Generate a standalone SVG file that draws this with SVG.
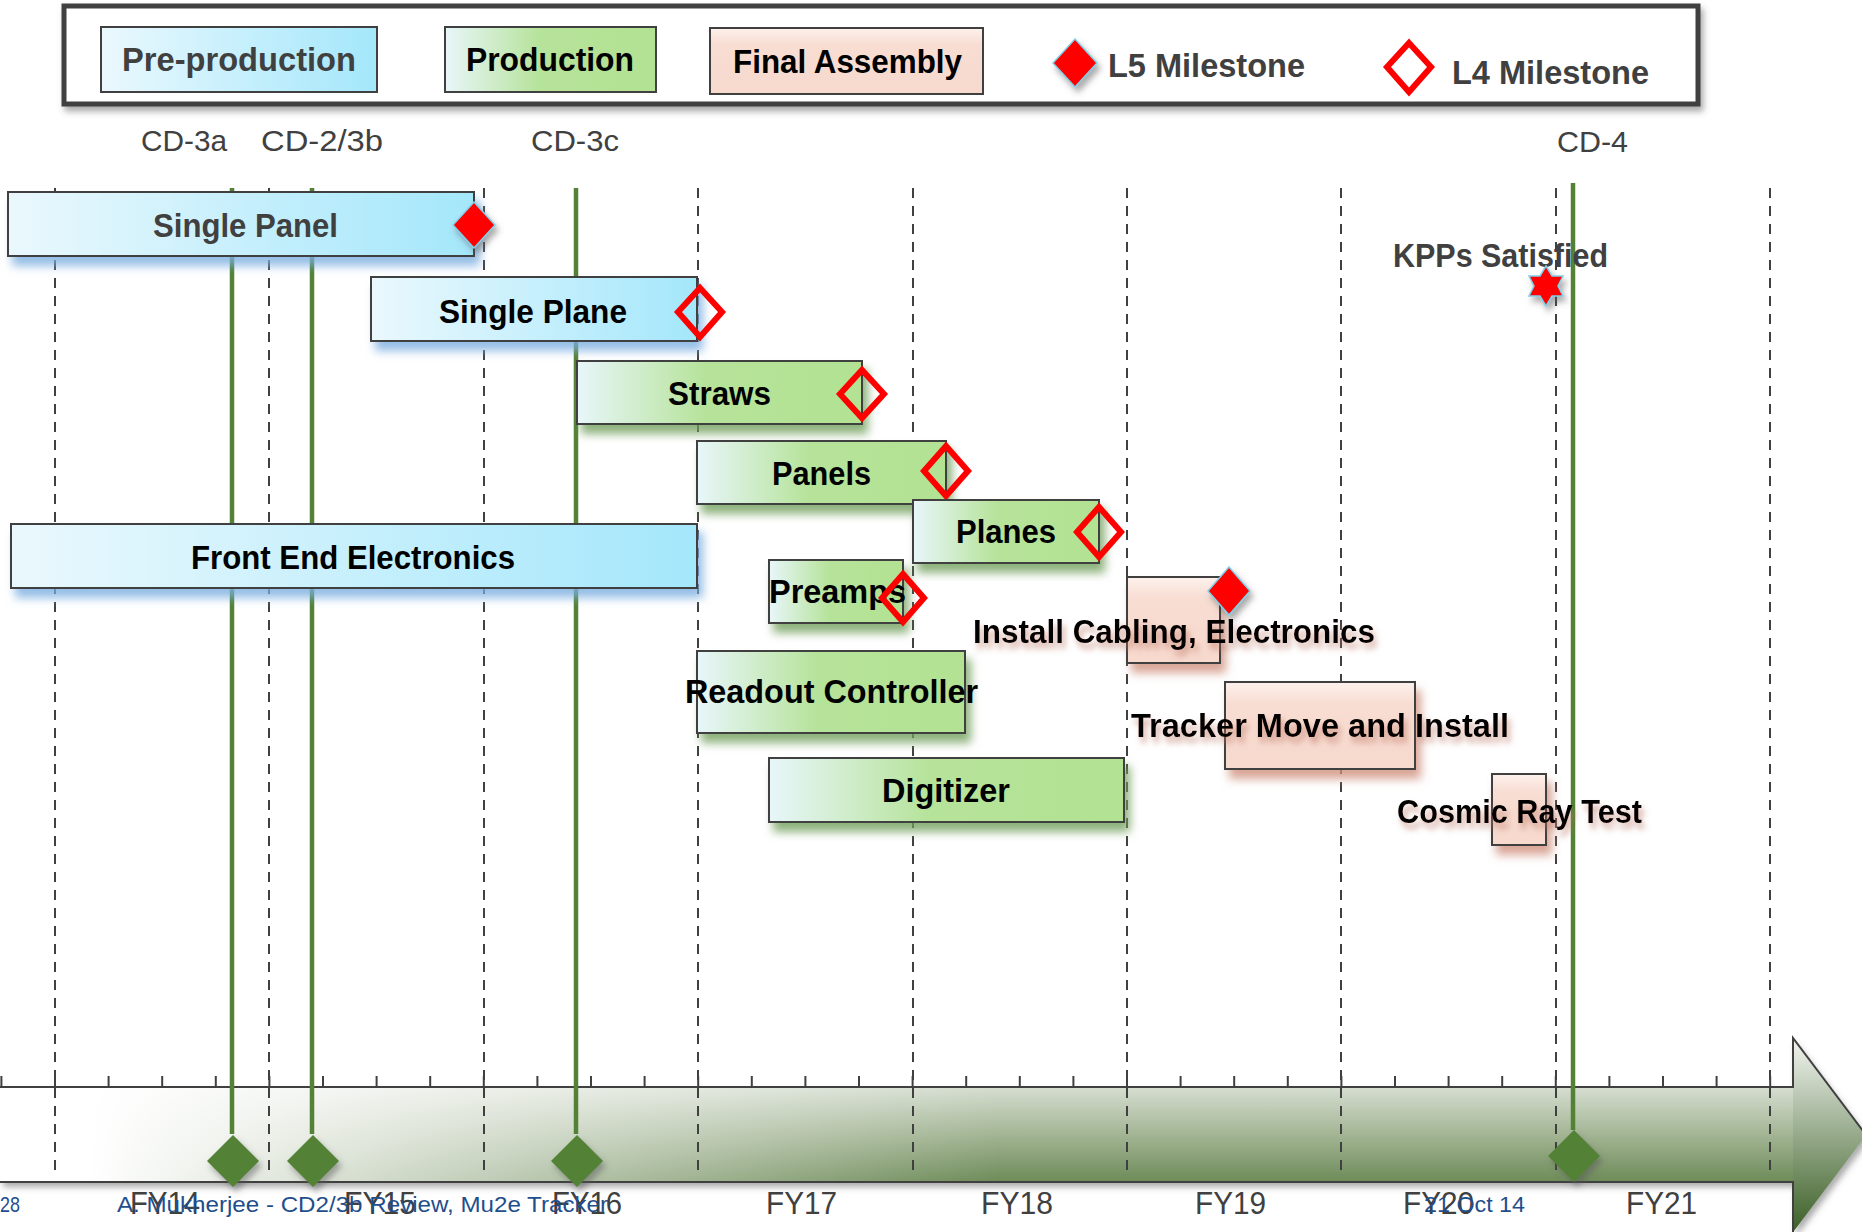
<svg xmlns="http://www.w3.org/2000/svg" width="1862" height="1232" viewBox="0 0 1862 1232">
<defs>
<linearGradient id="gCyan" x1="0" y1="0" x2="1" y2="0"><stop offset="0" stop-color="#eaf8fd"/><stop offset="1" stop-color="#a4e7fb"/></linearGradient>
<linearGradient id="gGreen" x1="0" y1="0" x2="1" y2="0"><stop offset="0" stop-color="#e8f6fa"/><stop offset="0.45" stop-color="#b6e39a"/><stop offset="1" stop-color="#b2e292"/></linearGradient>
<linearGradient id="gPink" x1="0" y1="0" x2="0" y2="1"><stop offset="0" stop-color="#fdf1ec"/><stop offset="0.25" stop-color="#f8ddd3"/><stop offset="1" stop-color="#f7d9cd"/></linearGradient>
<linearGradient id="gArrowV" gradientUnits="userSpaceOnUse" x1="0" y1="1087" x2="0" y2="1182"><stop offset="0" stop-color="#d6ded1"/><stop offset="0.5" stop-color="#a3b594"/><stop offset="1" stop-color="#6d8b58"/></linearGradient>
<linearGradient id="gFade" gradientUnits="userSpaceOnUse" x1="90" y1="0" x2="1000" y2="0"><stop offset="0" stop-color="#fff" stop-opacity="1"/><stop offset="1" stop-color="#fff" stop-opacity="0"/></linearGradient>
<linearGradient id="gHead" gradientUnits="userSpaceOnUse" x1="0" y1="1038" x2="0" y2="1232"><stop offset="0" stop-color="#f2f5f0"/><stop offset="1" stop-color="#3b5f26"/></linearGradient>
<filter id="shBlue" x="-10%" y="-30%" width="130%" height="180%"><feDropShadow dx="5" dy="9" stdDeviation="5" flood-color="#7aaee0" flood-opacity="0.8"/></filter>
<filter id="shGreen" x="-10%" y="-30%" width="130%" height="180%"><feDropShadow dx="5" dy="9" stdDeviation="5" flood-color="#6f9e5a" flood-opacity="0.8"/></filter>
<filter id="shPink" x="-20%" y="-30%" width="150%" height="180%"><feDropShadow dx="5" dy="9" stdDeviation="5" flood-color="#cf8f7c" flood-opacity="0.8"/></filter>
<filter id="shText" x="-10%" y="-30%" width="130%" height="180%"><feDropShadow dx="3" dy="6" stdDeviation="3" flood-color="#b8705f" flood-opacity="0.6"/></filter>
<filter id="shGray" x="-10%" y="-30%" width="130%" height="180%"><feDropShadow dx="3" dy="5" stdDeviation="3" flood-color="#555" flood-opacity="0.5"/></filter>
<style>
.bar{stroke:#404040;stroke-width:2}
.cy{fill:url(#gCyan)}
.gr{fill:url(#gGreen)}
.pk{fill:url(#gPink)}
.lbl{font-family:"Liberation Sans",Arial,sans-serif;font-weight:bold;font-size:34px;fill:#000}
.dk{fill:#404040}
.reg{font-family:"Liberation Sans",Arial,sans-serif;font-size:30px;fill:#404040}
.fy{font-size:32px}
.foot{font-family:"Liberation Sans",Arial,sans-serif;font-size:22px;fill:#1f4e8c}
.l5{fill:#ff0000;stroke:#7fd0e8;stroke-width:1.5}
.l4{fill:none;stroke:#ff0000;stroke-width:6;stroke-linejoin:miter}
.dash{stroke:#404040;stroke-width:2;stroke-dasharray:10 8;fill:none}
.ms{stroke:#538135;stroke-width:4.5;fill:none}
.gd{fill:#538135}
</style>
</defs>
<rect width="1862" height="1232" fill="#fff"/>

<g id="timeline-arrow">
<path d="M0,1087 H1793 V1038 L1866,1135 L1793,1232 V1182 H0 Z" fill="url(#gArrowV)" filter="url(#shGray)"/>
<rect x="0" y="1087" width="1793" height="95" fill="url(#gFade)"/>
<path d="M1793,1038 L1866,1135 L1793,1232 Z" fill="url(#gHead)"/>
<path d="M0,1087 H1793 V1038 L1866,1135 M1793,1232 V1182 H0" fill="none" stroke="#404040" stroke-width="2"/>
<path d="M1.4,1076V1087M55,1076V1087M108.6,1076V1087M162.2,1076V1087M215.8,1076V1087M269.4,1076V1087M323,1076V1087M376.6,1076V1087M430.2,1076V1087M483.8,1076V1087M537.4,1076V1087M591,1076V1087M644.6,1076V1087M698.2,1076V1087M751.8,1076V1087M805.4,1076V1087M859,1076V1087M912.6,1076V1087M966.2,1076V1087M1019.8,1076V1087M1073.4,1076V1087M1127,1076V1087M1180.6,1076V1087M1234.2,1076V1087M1287.8,1076V1087M1341.4,1076V1087M1395,1076V1087M1448.6,1076V1087M1502.2,1076V1087M1555.8,1076V1087M1609.4,1076V1087M1663,1076V1087M1716.6,1076V1087M1770.2,1076V1087" stroke="#404040" stroke-width="2"/>
</g>

<g id="grid">
<path class="dash" d="M55,188V1170M269,188V1170M484,188V1170M698,188V1170M913,188V1170M1127,188V1170M1341,188V1170M1556,188V1170M1770,188V1170"/>
</g>

<g id="connectors">
<path class="ms" d="M232,188V1134M312,188V1134M576,188V1134M1573,183V1130"/>
</g>

<g id="milestones-bottom" filter="url(#shGray)">
<path class="gd" d="M233,1135 L259,1161 L233,1187 L207,1161 Z"/>
<path class="gd" d="M313,1135 L339,1161 L313,1187 L287,1161 Z"/>
<path class="gd" d="M577,1135 L603,1161 L577,1187 L551,1161 Z"/>
<path class="gd" d="M1574,1130 L1600,1156 L1574,1182 L1548,1156 Z"/>
</g>

<g id="fy-labels">
<text class="reg fy" x="130" y="1214" textLength="70" lengthAdjust="spacingAndGlyphs">FY14</text>
<text class="reg fy" x="344" y="1214" textLength="72" lengthAdjust="spacingAndGlyphs">FY15</text>
<text class="reg fy" x="552" y="1214" textLength="70" lengthAdjust="spacingAndGlyphs">FY16</text>
<text class="reg fy" x="766" y="1214" textLength="71" lengthAdjust="spacingAndGlyphs">FY17</text>
<text class="reg fy" x="981" y="1214" textLength="72" lengthAdjust="spacingAndGlyphs">FY18</text>
<text class="reg fy" x="1195" y="1214" textLength="71" lengthAdjust="spacingAndGlyphs">FY19</text>
<text class="reg fy" x="1403" y="1214" textLength="71" lengthAdjust="spacingAndGlyphs">FY20</text>
<text class="reg fy" x="1626" y="1214" textLength="71" lengthAdjust="spacingAndGlyphs">FY21</text>
</g>

<g id="footer">
<text class="foot" x="0" y="1212" textLength="20" lengthAdjust="spacingAndGlyphs">28</text>
<text class="foot" x="117" y="1212" textLength="491" lengthAdjust="spacingAndGlyphs">A. Mukherjee - CD2/3b Review, Mu2e Tracker</text>
<text class="foot" x="1424" y="1212" textLength="101" lengthAdjust="spacingAndGlyphs">21 Oct 14</text>
</g>

<g id="legend">
<rect x="64" y="6" width="1634" height="98" fill="#fff" stroke="#404040" stroke-width="5" filter="url(#shGray)"/>
<rect class="bar cy" x="101" y="27" width="276" height="65" stroke-width="1.5"/>
<text class="lbl dk" x="122" y="71" font-size="32" textLength="234" lengthAdjust="spacingAndGlyphs">Pre-production</text>
<rect class="bar gr" x="445" y="27" width="211" height="65" stroke-width="1.5"/>
<text class="lbl" x="466" y="71" font-size="32" textLength="168" lengthAdjust="spacingAndGlyphs">Production</text>
<rect class="bar pk" x="710" y="28" width="273" height="66" stroke-width="1.5"/>
<text class="lbl" x="733" y="73" font-size="32" textLength="229" lengthAdjust="spacingAndGlyphs">Final Assembly</text>
<path class="l5" d="M1075,39 L1097,63 L1075,87 L1053,63 Z" filter="url(#shGray)"/>
<text class="lbl dk" x="1108" y="77" font-size="32" textLength="197" lengthAdjust="spacingAndGlyphs">L5 Milestone</text>
<path class="l4" d="M1409,43 L1431,67 L1409,92 L1387,67 Z"/>
<text class="lbl dk" x="1452" y="84" font-size="32" textLength="197" lengthAdjust="spacingAndGlyphs">L4 Milestone</text>
</g>

<g id="cd-labels">
<text class="reg" x="141" y="151" textLength="86" lengthAdjust="spacingAndGlyphs">CD-3a</text>
<text class="reg" x="261" y="151" textLength="122" lengthAdjust="spacingAndGlyphs">CD-2/3b</text>
<text class="reg" x="531" y="151" textLength="88" lengthAdjust="spacingAndGlyphs">CD-3c</text>
<text class="reg" x="1557" y="152" textLength="71" lengthAdjust="spacingAndGlyphs">CD-4</text>
</g>

<g id="single-panel">
<rect class="bar cy" x="8" y="192" width="466" height="64" filter="url(#shBlue)"/>
<text class="lbl dk" x="153" y="237" textLength="185" lengthAdjust="spacingAndGlyphs">Single Panel</text>
<path class="l5" d="M474,202 L495,225 L474,248 L453,225 Z" filter="url(#shGray)"/>
</g>

<g id="single-plane">
<rect class="bar cy" x="371" y="277" width="326" height="64" filter="url(#shBlue)"/>
<text class="lbl" x="439" y="323" textLength="188" lengthAdjust="spacingAndGlyphs">Single Plane</text>
<path class="l4" d="M700,288 L722,312 L700,337 L678,312 Z"/>
</g>

<g id="straws">
<rect class="bar gr" x="577" y="361" width="285" height="63" filter="url(#shGreen)"/>
<text class="lbl" x="668" y="405" textLength="103" lengthAdjust="spacingAndGlyphs">Straws</text>
<path class="l4" d="M862,370 L884,394 L862,418 L840,394 Z"/>
</g>

<g id="panels">
<rect class="bar gr" x="697" y="441" width="249" height="63" filter="url(#shGreen)"/>
<text class="lbl" x="772" y="485" textLength="99" lengthAdjust="spacingAndGlyphs">Panels</text>
<path class="l4" d="M946,446 L968,471 L946,496 L924,471 Z"/>
</g>

<g id="front-end-electronics">
<rect class="bar cy" x="11" y="524" width="686" height="64" filter="url(#shBlue)"/>
<text class="lbl" x="191" y="569" textLength="324" lengthAdjust="spacingAndGlyphs">Front End Electronics</text>
</g>

<g id="planes">
<rect class="bar gr" x="913" y="500" width="186" height="63" filter="url(#shGreen)"/>
<text class="lbl" x="956" y="543" textLength="100" lengthAdjust="spacingAndGlyphs">Planes</text>
<path class="l4" d="M1099,507 L1121,532 L1099,557 L1077,532 Z"/>
</g>

<g id="preamps">
<rect class="bar gr" x="769" y="560" width="134" height="63" filter="url(#shGreen)"/>
<text class="lbl" x="769" y="603" textLength="137" lengthAdjust="spacingAndGlyphs">Preamps</text>
<path class="l4" d="M903,574 L924,598 L903,622 L882,598 Z"/>
</g>

<g id="install-cabling">
<rect class="bar pk" x="1127" y="577" width="93" height="86" filter="url(#shPink)"/>
<path class="l5" d="M1229,567 L1250,591 L1229,615 L1208,591 Z" filter="url(#shGray)"/>
<text class="lbl" x="973" y="643" textLength="402" lengthAdjust="spacingAndGlyphs" filter="url(#shText)">Install Cabling, Electronics</text>
</g>

<g id="readout-controller">
<rect class="bar gr" x="697" y="651" width="268" height="82" filter="url(#shGreen)"/>
<text class="lbl" x="685" y="703" textLength="293" lengthAdjust="spacingAndGlyphs">Readout Controller</text>
</g>

<g id="tracker-move">
<rect class="bar pk" x="1225" y="682" width="190" height="87" filter="url(#shPink)"/>
<text class="lbl" x="1131" y="737" textLength="378" lengthAdjust="spacingAndGlyphs" filter="url(#shText)">Tracker Move and Install</text>
</g>

<g id="digitizer">
<rect class="bar gr" x="769" y="758" width="355" height="64" filter="url(#shGreen)"/>
<text class="lbl" x="882" y="802" textLength="128" lengthAdjust="spacingAndGlyphs">Digitizer</text>
</g>

<g id="cosmic-ray-test">
<rect class="bar pk" x="1492" y="774" width="54" height="71" filter="url(#shPink)"/>
<text class="lbl" x="1397" y="823" textLength="245" lengthAdjust="spacingAndGlyphs" filter="url(#shText)">Cosmic Ray Test</text>
</g>

<g id="kpps">
<text class="lbl dk" x="1393" y="267" textLength="215" lengthAdjust="spacingAndGlyphs">KPPs Satisfied</text>
<polygon points="1546,266 1552,276 1563,276 1558,286 1563,296 1552,296 1546,306 1540,296 1529,296 1534,286 1529,276 1540,276" fill="#ff0000" stroke="#7fd0e8" stroke-width="1.5" filter="url(#shGray)"/>
</g>
</svg>
